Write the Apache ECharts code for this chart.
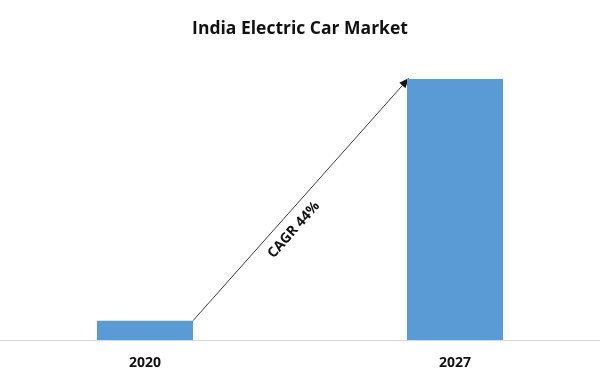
<!DOCTYPE html>
<html><head><meta charset="utf-8">
<script src="https://cdn.jsdelivr.net/npm/echarts@6/dist/echarts.min.js"></script>
<style>html,body{margin:0;padding:0;background:#fff}#c{width:600px;height:380px}</style>
</head><body><div id="c"></div>
<script>
var categories = ['2020', '2027'];
var values = [1.0, 13.5];
var cagrLabel = 'CAGR 44%';
var titleText = 'India Electric Car Market';

var FONT = '"Open Sans", "DejaVu Sans", sans-serif';
var BAR_W = 96;
var chart = echarts.init(document.getElementById('c'), null, {renderer: 'canvas'});
chart.setOption({
  animation: false,
  backgroundColor: '#ffffff',
  title: {
    text: titleText, left: 'center', top: 15,
    textStyle: {fontFamily: FONT, fontWeight: 'bold', fontSize: 17.5, color: '#111'}
  },
  grid: {left: -10, right: -10, top: 79, bottom: 40, containLabel: false, outerBoundsMode: 'none'},
  xAxis: {
    type: 'category', data: categories,
    axisLine: {show: true, lineStyle: {color: '#d9d9d9', width: 1}},
    axisTick: {show: false},
    axisLabel: {fontFamily: FONT, fontWeight: 'bold', fontSize: 14, color: '#111', margin: 16}
  },
  yAxis: {type: 'value', min: 0, max: 13.5, show: false, splitLine: {show: false}},
  series: [{
    type: 'bar', data: values, barWidth: BAR_W,
    itemStyle: {color: '#5b9bd5'}
  }]
});

var p0 = chart.convertToPixel({seriesIndex: 0}, [categories[0], values[0]]);
var p1 = chart.convertToPixel({seriesIndex: 0}, [categories[1], values[1]]);
var x0 = p0[0] + BAR_W / 2, y0 = p0[1];
var x1 = p1[0] - BAR_W / 2 + 2, y1 = p1[1] - 1;
var dx = x1 - x0, dy = y1 - y0, len = Math.sqrt(dx * dx + dy * dy);
var ux = dx / len, uy = dy / len;
var ang = Math.atan2(-dy, dx);
var headL = 10, headW = 4;
var bx = x1 - ux * headL, by = y1 - uy * headL;
var nx = -uy, ny = ux;
var t = 0.415, off = 15;
var px = -uy, py = ux;
if (px < 0) { px = -px; py = -py; }
var cx = x0 + dx * t + px * off, cy = y0 + dy * t + py * off;
chart.setOption({
  graphic: [
    {type: 'line', shape: {x1: x0, y1: y0, x2: bx, y2: by}, style: {stroke: '#404040', lineWidth: 1}},
    {type: 'polygon', shape: {points: [[x1, y1], [bx + nx * headW, by + ny * headW], [bx - nx * headW, by - ny * headW]]}, style: {fill: '#111'}},
    {type: 'text', x: cx, y: cy, rotation: ang,
     style: {text: cagrLabel, font: 'bold 14px ' + FONT, fill: '#111', align: 'center', verticalAlign: 'middle'}}
  ]
});
</script></body></html>
